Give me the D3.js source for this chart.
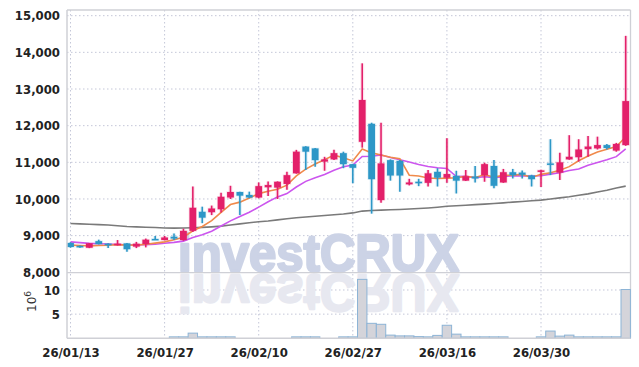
<!DOCTYPE html>
<html>
<head>
<meta charset="utf-8">
<script src="https://cdn.jsdelivr.net/npm/d3@7"></script>
<style>
  html, body { margin: 0; padding: 0; background: #fff; }
  svg { display: block; }
  .tick text { font-family: "Liberation Sans Narrow", "DejaVu Sans Condensed", sans-serif; font-weight: bold; font-size: 13px; fill: #222; }
</style>
</head>
<body>
<svg id="chart" width="639" height="367"></svg>
<script>
const dates = [
  '26/01/13', '26/01/14', '26/01/15', '26/01/16', '26/01/19', '26/01/20', '26/01/21', '26/01/22', '26/01/23', '26/01/26',
  '26/01/27', '26/01/28', '26/01/29', '26/01/30', '26/02/02', '26/02/03', '26/02/04', '26/02/05', '26/02/06', '26/02/09',
  '26/02/10', '26/02/11', '26/02/12', '26/02/13', '26/02/19', '26/02/20', '26/02/23', '26/02/24', '26/02/25', '26/02/26',
  '26/02/27', '26/03/03', '26/03/04', '26/03/05', '26/03/06', '26/03/09', '26/03/10', '26/03/11', '26/03/12', '26/03/13',
  '26/03/16', '26/03/17', '26/03/18', '26/03/19', '26/03/20', '26/03/23', '26/03/24', '26/03/25', '26/03/26', '26/03/27',
  '26/03/30', '26/03/31', '26/04/01', '26/04/02', '26/04/03', '26/04/06', '26/04/07', '26/04/08', '26/04/09', '26/04/10',
];

const opens = [
  8800, 8720, 8670, 8850, 8780, 8750, 8790, 8700, 8770, 8910,
  8880, 8970, 8880, 9130, 9650, 9640, 9720, 10040, 10190, 10110,
  10040, 10320, 10310, 10410, 10700, 11430, 11380, 11020, 11080, 11250,
  10950, 11560, 12050, 9970, 11060, 11040, 10400, 10470, 10440, 10740,
  10580, 10630, 10500, 10610, 10650, 10900, 10450, 10730, 10720, 10640,
  10760, 10970, 10720, 11080, 11140, 11360, 11380, 11470, 11320, 11470,
];
const highs = [
  8820, 8730, 8800, 8890, 8790, 8880, 8800, 8830, 8920, 8990,
  8990, 9060, 9190, 10340, 9790, 9820, 10170, 10360, 10200, 10200,
  10450, 10480, 10480, 10740, 11340, 11440, 11390, 11150, 11340, 11290,
  10950, 13700, 12080, 12080, 11080, 11060, 10550, 10550, 10790, 10840,
  11660, 10770, 10790, 10900, 10990, 11060, 10820, 10820, 10780, 10660,
  10800, 11630, 11260, 11740, 11630, 11720, 11700, 11500, 11530, 14450,
];
const lows = [
  8670, 8670, 8660, 8760, 8660, 8730, 8560, 8660, 8680, 8890,
  8870, 8880, 8860, 9100, 9340, 9560, 9630, 10000, 9560, 10020,
  10020, 10080, 10000, 10250, 10690, 10790, 10880, 10770, 11060, 10840,
  10430, 11400, 9600, 9900, 10500, 10200, 10370, 10350, 10340, 10340,
  10440, 10150, 10490, 10450, 10470, 10290, 10440, 10560, 10560, 10340,
  10330, 10650, 10520, 11070, 11020, 11150, 11350, 11350, 11290, 11450,
];
const closes = [
  8690, 8690, 8790, 8770, 8750, 8780, 8630, 8780, 8890, 8900,
  8950, 8920, 9130, 9760, 9490, 9740, 10060, 10190, 10090, 10040,
  10350, 10380, 10470, 10650, 11290, 11290, 11060, 11080, 11250, 10950,
  10850, 12700, 10540, 10970, 10640, 10640, 10450, 10430, 10700, 10580,
  10680, 10500, 10620, 10560, 10950, 10360, 10730, 10650, 10660, 10540,
  10780, 10940, 11000, 11150, 11350, 11430, 11470, 11390, 11500, 12670,
];

// moving averages as drawn (orange = 5 day, purple = 10 day, grey = long term)
const ma5 = [
  8740, 8730, 8720, 8730, 8738, 8756, 8744, 8742, 8766, 8796,
  8830, 8888, 8958, 9132, 9250, 9408, 9636, 9848, 9914, 10024,
  10146, 10210, 10266, 10378, 10628, 10816, 10952, 11074, 11194, 11126,
  11038, 11366, 11258, 11202, 11140, 11098, 10648, 10626, 10572, 10560,
  10568, 10578, 10616, 10588, 10662, 10598, 10644, 10650, 10670, 10588,
  10672, 10714, 10784, 10882, 11044, 11174, 11280, 11358, 11428, 11692,
];
const ma10 = [
  8830, 8810, 8790, 8780, 8770, 8760, 8750, 8745, 8755, 8767,
  8793, 8816, 8850, 8949, 9023, 9119, 9262, 9403, 9523, 9637,
  9777, 9923, 10057, 10146, 10326, 10481, 10581, 10670, 10786, 10877,
  10927, 11159, 11166, 11198, 11133, 11068, 11007, 10942, 10887, 10850,
  10833, 10613, 10621, 10580, 10611, 10583, 10611, 10633, 10629, 10625,
  10635, 10679, 10717, 10776, 10816, 10923, 10997, 11071, 11155, 11368,
];
const maLong = [
  9330, 9320, 9310, 9300, 9290, 9270, 9250, 9240, 9230, 9220,
  9210, 9205, 9210, 9215, 9225, 9240, 9260, 9290, 9320, 9350,
  9380, 9400, 9430, 9460, 9490, 9510, 9530, 9550, 9570, 9590,
  9620, 9670, 9685, 9695, 9705, 9715, 9725, 9740, 9755, 9775,
  9800, 9815, 9830, 9845, 9860, 9875, 9895, 9915, 9930, 9950,
  9970, 10000, 10030, 10060, 10100, 10140, 10190, 10240, 10300, 10350,
];

// volume in millions of shares
const volumes = [
  0, 0, 0, 0, 0, 0, 0, 0, 0, 0,
  0, 0.3, 0.3, 1.07, 0.3, 0.3, 0.3, 0.3, 0.05, 0.05,
  0.05, 0.05, 0.05, 0.05, 0.3, 0.3, 0.3, 0.05, 0.05, 0.3,
  0.3, 12.2, 3.1, 2.9, 0.66, 0.5, 0.5, 0.35, 0.3, 0.6,
  2.7, 0.86, 0.3, 0.3, 0.3, 0.3, 0.3, 0.05, 0.05, 0.05,
  0.3, 1.5, 0.45, 0.66, 0.3, 0.3, 0.3, 0.3, 0.3, 10.1,
];

const priceTicks = [8000, 9000, 10000, 11000, 12000, 13000, 14000, 15000];
const volumeTicks = [5, 10];
const dateTicks = ['26/01/13', '26/01/27', '26/02/10', '26/02/27', '26/03/16', '26/03/30'];

const upColor = '#e3206a';
const downColor = '#2d97c7';
const gridColor = '#c4c7d8';

const svg = d3.select('#chart');
const left = 67;
const right = 630.5;

const x = d3.scalePoint().domain(dates).range([70.5, 625.7]);
const step = x.step();
const y = d3.scaleLinear().domain([8000, 15155]).range([272.3, 10]);
const yVol = d3.scaleLinear().domain([0, 13.58]).range([338.3, 272.7]);

// gridlines
const grid = svg.append('g');
grid.selectAll('line.h')
  .data(priceTicks.filter((d) => d > 8000))
  .join('line')
  .attr('x1', left).attr('x2', right)
  .attr('y1', (d) => y(d)).attr('y2', (d) => y(d))
  .attr('stroke', gridColor).attr('stroke-dasharray', '1.5,2.5');
grid.selectAll('line.v')
  .data(volumeTicks)
  .join('line')
  .attr('x1', left).attr('x2', right)
  .attr('y1', (d) => yVol(d)).attr('y2', (d) => yVol(d))
  .attr('stroke', gridColor).attr('stroke-dasharray', '1.5,2.5');
grid.selectAll('line.x')
  .data(dateTicks)
  .join('line')
  .attr('x1', (d) => x(d)).attr('x2', (d) => x(d))
  .attr('y1', 10).attr('y2', 338)
  .attr('stroke', gridColor).attr('stroke-dasharray', '1.5,2.5');

// watermark and its reflection
const mark = svg.append('g')
  .attr('font-family', 'Liberation Sans, Arial, sans-serif')
  .attr('font-weight', 'bold')
  .attr('font-size', 52);
mark.append('text')
  .attr('x', 178).attr('y', 270.7)
  .attr('textLength', 281).attr('lengthAdjust', 'spacingAndGlyphs')
  .attr('fill', '#ccd3e6').attr('stroke', '#ccd3e6').attr('stroke-width', 2.4)
  .attr('stroke-linejoin', 'round')
  .text('investCRUX');
mark.append('text')
  .attr('transform', 'translate(0,545.4) scale(1,-1)')
  .attr('x', 178).attr('y', 270.7)
  .attr('textLength', 281).attr('lengthAdjust', 'spacingAndGlyphs')
  .attr('fill', '#e7e8f0').attr('stroke', '#e7e8f0').attr('stroke-width', 2.4)
  .attr('stroke-linejoin', 'round')
  .text('investCRUX');

// frame
const frame = svg.append('g').attr('stroke', '#cfd0d6').attr('stroke-width', 1.3);
frame.append('line').attr('x1', left).attr('x2', right).attr('y1', 10).attr('y2', 10);
frame.append('line').attr('x1', right).attr('x2', right).attr('y1', 10).attr('y2', 338.3);
frame.append('line').attr('x1', left).attr('x2', right).attr('y1', 272.7).attr('y2', 272.7);

// volume bars
svg.append('g')
  .selectAll('rect')
  .data(dates)
  .join('rect')
  .attr('x', (d) => x(d) - step / 2)
  .attr('width', step)
  .attr('y', (d, i) => yVol(volumes[i]))
  .attr('height', (d, i) => yVol(0) - yVol(volumes[i]))
  .attr('fill', '#d4d4da')
  .attr('stroke', (d, i) => (volumes[i] > 0.1 ? '#8db4d6' : 'none'))
  .attr('stroke-width', 1);

// moving averages
const maLine = (values) => d3.line().x((d, i) => x(dates[i])).y((d) => y(d))(values);
svg.append('path').attr('d', maLine(maLong)).attr('fill', 'none').attr('stroke', '#7a7a7a').attr('stroke-width', 1.6);
svg.append('path').attr('d', maLine(ma10)).attr('fill', 'none').attr('stroke', '#cc55ee').attr('stroke-width', 1.6);
svg.append('path').attr('d', maLine(ma5)).attr('fill', 'none').attr('stroke', '#f08a4b').attr('stroke-width', 1.6);

// candles, with a faint halo like the original
const candles = svg.append('g')
  .selectAll('g')
  .data(dates)
  .join('g')
  .attr('fill', (d, i) => (closes[i] >= opens[i] ? upColor : downColor))
  .attr('stroke', (d, i) => (closes[i] >= opens[i] ? upColor : downColor));
candles.append('line')
  .attr('x1', (d) => x(d)).attr('x2', (d) => x(d))
  .attr('y1', (d, i) => y(highs[i])).attr('y2', (d, i) => y(lows[i]))
  .attr('stroke-width', 4).attr('stroke-opacity', 0.12);
candles.append('line')
  .attr('x1', (d) => x(d)).attr('x2', (d) => x(d))
  .attr('y1', (d, i) => y(highs[i])).attr('y2', (d, i) => y(lows[i]))
  .attr('stroke-width', 1.6);
candles.append('rect')
  .attr('x', (d) => x(d) - 3.4)
  .attr('width', 6.8)
  .attr('y', (d, i) => y(Math.max(opens[i], closes[i])))
  .attr('height', (d, i) => Math.max(1.5, Math.abs(y(opens[i]) - y(closes[i]))))
  .attr('stroke-width', 1.5).attr('stroke-opacity', 0.15);

// axes
const yAxis = svg.append('g')
  .attr('transform', `translate(${left},0)`)
  .call(d3.axisLeft(y).tickValues(priceTicks).tickFormat(d3.format(',')).tickSize(0).tickPadding(7));
yAxis.select('.domain').remove();
const vAxis = svg.append('g')
  .attr('transform', `translate(${left},0)`)
  .call(d3.axisLeft(yVol).tickValues(volumeTicks).tickSize(0).tickPadding(7));
vAxis.select('.domain').remove();
const xAxis = svg.append('g')
  .attr('transform', 'translate(0,338.3)')
  .call(d3.axisBottom(x).tickValues(dateTicks).tickSize(0).tickPadding(9));
xAxis.select('.domain').remove();

svg.append('line').attr('x1', left).attr('x2', left).attr('y1', 10).attr('y2', 338.3)
  .attr('stroke', '#cfd0d6').attr('stroke-width', 1.5);
svg.append('line').attr('x1', left).attr('x2', right).attr('y1', 338.3).attr('y2', 338.3)
  .attr('stroke', '#cfd0d6').attr('stroke-width', 1.5);

// volume unit label
const unit = svg.append('text')
  .attr('transform', 'translate(36,312) rotate(-90)')
  .attr('font-family', 'DejaVu Sans, sans-serif')
  .attr('font-size', 12)
  .attr('fill', '#333');
unit.append('tspan').text('10');
unit.append('tspan').attr('dy', -5).attr('font-size', 9).text('6');
</script>
</body>
</html>
